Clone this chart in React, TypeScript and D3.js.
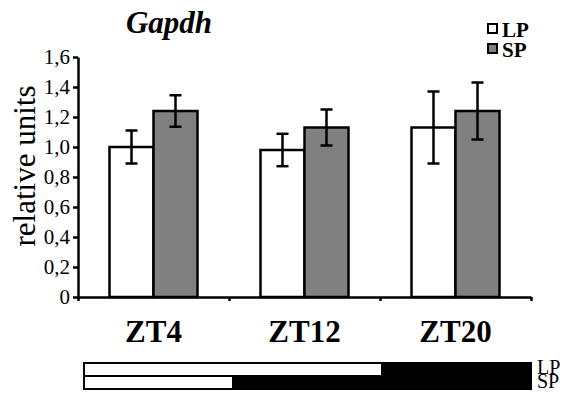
import React, { useEffect, useRef } from 'react';
import * as d3 from 'd3';

const categories = ['ZT4', 'ZT12', 'ZT20'];
const series = ['LP', 'SP'];
const lpValues = [1.0, 0.98, 1.13];
const spValues = [1.24, 1.13, 1.24];
const lpErrors = [0.11, 0.108, 0.24];
const spErrors = [0.105, 0.12, 0.19];
const yTicks = [0, 0.2, 0.4, 0.6, 0.8, 1.0, 1.2, 1.4, 1.6];
const lightHours = [16, 8]; // light phase length for LP, SP

const colors = { LP: '#ffffff', SP: '#808080' };
const serif = 'Liberation Serif, Times New Roman, serif';

export default function App() {
  const ref = useRef<SVGSVGElement>(null);

  useEffect(() => {
    const svg = d3.select(ref.current);
    svg.selectAll('*').remove();

    const left = 78;
    const right = 531;
    const top = 57;
    const bottom = 297;

    const x0 = d3.scaleBand().domain(categories).range([left, right]).padding(0);
    const x1 = d3
      .scaleBand()
      .domain(series)
      .range([0, x0.bandwidth()])
      .paddingInner(0)
      .paddingOuter(0.716);
    const y = d3.scaleLinear().domain([0, 1.6]).range([bottom, top]);

    const data = categories.map((c, i) => ({
      cat: c,
      vals: [
        { key: 'LP', value: lpValues[i], err: lpErrors[i] },
        { key: 'SP', value: spValues[i], err: spErrors[i] }
      ]
    }));

    // bars
    const groups = svg
      .selectAll('g.grp')
      .data(data)
      .enter()
      .append('g')
      .attr('class', 'grp')
      .attr('transform', d => `translate(${x0(d.cat)},0)`);

    groups
      .selectAll('rect')
      .data(d => d.vals)
      .enter()
      .append('rect')
      .attr('x', d => x1(d.key)!)
      .attr('width', x1.bandwidth())
      .attr('y', d => y(d.value))
      .attr('height', d => y(0) - y(d.value))
      .attr('fill', d => colors[d.key as 'LP' | 'SP'])
      .attr('stroke', '#000')
      .attr('stroke-width', 2.5);

    // error bars
    const eb = groups
      .selectAll('g.err')
      .data(d => d.vals)
      .enter()
      .append('g')
      .attr('class', 'err')
      .attr('stroke', '#000')
      .attr('stroke-width', 2.5);
    const cx = (d: any) => x1(d.key)! + x1.bandwidth() / 2;
    eb.append('line')
      .attr('x1', cx)
      .attr('x2', cx)
      .attr('y1', d => y(d.value + d.err))
      .attr('y2', d => y(d.value - d.err));
    eb.append('line')
      .attr('x1', d => cx(d) - 6)
      .attr('x2', d => cx(d) + 6)
      .attr('y1', d => y(d.value + d.err))
      .attr('y2', d => y(d.value + d.err));
    eb.append('line')
      .attr('x1', d => cx(d) - 6)
      .attr('x2', d => cx(d) + 6)
      .attr('y1', d => y(d.value - d.err))
      .attr('y2', d => y(d.value - d.err));

    // y axis
    const yAxis = d3
      .axisLeft(y)
      .tickValues(yTicks)
      .tickSize(5)
      .tickSizeOuter(0)
      .tickPadding(3)
      .tickFormat(d => (+d === 0 ? '0' : d3.format('.1f')(+d).replace('.', ',')));
    const yg = svg.append('g').attr('transform', `translate(${left},0)`).call(yAxis);
    yg.attr('font-family', null).attr('font-size', null);
    yg.selectAll('path, line').attr('stroke', '#000').attr('stroke-width', 2.5);
    yg.selectAll('text')
      .style('font-family', serif)
      .style('font-size', '21px')
      .attr('fill', '#000');

    // x axis with ticks at category boundaries
    const xb = d3.scaleLinear().domain([0, categories.length]).range([left, right]);
    const xAxis = d3
      .axisBottom(xb)
      .ticks(categories.length)
      .tickSize(4)
      .tickSizeOuter(0)
      .tickFormat(() => '');
    const xg = svg.append('g').attr('transform', `translate(0,${bottom})`).call(xAxis);
    xg.selectAll('path, line').attr('stroke', '#000').attr('stroke-width', 2.5);

    svg
      .selectAll('text.cat')
      .data(categories)
      .enter()
      .append('text')
      .attr('class', 'cat')
      .attr('x', d => x0(d)! + x0.bandwidth() / 2)
      .attr('y', 342)
      .attr('text-anchor', 'middle')
      .style('font-family', serif)
      .style('font-weight', 'bold')
      .style('font-size', '31px')
      .text(d => d);

    // y label
    svg
      .append('text')
      .attr('transform', 'translate(35,166) rotate(-90)')
      .attr('text-anchor', 'middle')
      .style('font-family', serif)
      .style('font-size', '31px')
      .text('relative units');

    // title
    svg
      .append('text')
      .attr('x', 169)
      .attr('y', 33)
      .attr('text-anchor', 'middle')
      .style('font-family', serif)
      .style('font-weight', 'bold')
      .style('font-style', 'italic')
      .style('font-size', '31px')
      .text('Gapdh');

    // legend
    const lg = svg
      .selectAll('g.leg')
      .data(series)
      .enter()
      .append('g')
      .attr('class', 'leg')
      .attr('transform', (d, i) => `translate(488,${24 + i * 20})`);
    lg.append('rect')
      .attr('width', 9)
      .attr('height', 9)
      .attr('fill', d => colors[d as 'LP' | 'SP'])
      .attr('stroke', '#000')
      .attr('stroke-width', 2);
    lg.append('text')
      .attr('x', 14)
      .attr('y', 13)
      .style('font-family', serif)
      .style('font-weight', 'bold')
      .style('font-size', '21px')
      .text(d => d);

    // light/dark bars
    const h = d3.scaleLinear().domain([0, 24]).range([84, 531]);
    const rowTop = 363;
    const rowH = 13;
    series.forEach((s, i) => {
      const ry = rowTop + i * rowH;
      svg
        .append('rect')
        .attr('x', h(0))
        .attr('y', ry)
        .attr('width', h(lightHours[i]) - h(0))
        .attr('height', rowH)
        .attr('fill', '#fff')
        .attr('stroke', '#000')
        .attr('stroke-width', 2);
      svg
        .append('rect')
        .attr('x', h(lightHours[i]))
        .attr('y', ry)
        .attr('width', h(24) - h(lightHours[i]))
        .attr('height', rowH)
        .attr('fill', '#000')
        .attr('stroke', '#000')
        .attr('stroke-width', 2);
      svg
        .append('text')
        .attr('x', 537)
        .attr('y', ry + 11 + i)
        .style('font-family', serif)
        .style('font-size', '20px')
        .text(s);
    });
  }, []);

  return (
    <svg
      ref={ref}
      width={567}
      height={396}
      style={{ position: 'absolute', left: 0, top: 0, background: '#fff' }}
    />
  );
}
